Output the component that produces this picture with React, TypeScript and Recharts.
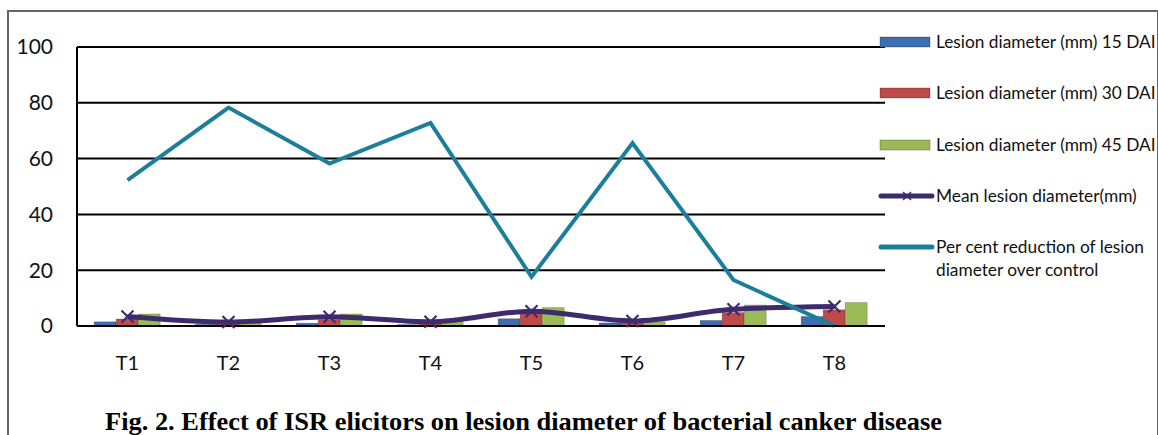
import React from 'react';
import { ComposedChart, Bar, Line, XAxis, YAxis, CartesianGrid } from 'recharts';

const categories = ['T1', 'T2', 'T3', 'T4', 'T5', 'T6', 'T7', 'T8'];
const dai15 = [1.5, 0.6, 1.0, 0.5, 2.6, 1.1, 2.0, 3.4];
const dai30 = [2.5, 0.8, 2.3, 0.8, 4.8, 1.7, 4.8, 5.8];
const dai45 = [4.3, 2.0, 4.3, 1.7, 6.6, 1.5, 7.5, 8.4];
const meanDiameter = [3.4, 1.4, 3.3, 1.5, 5.3, 1.8, 6.0, 7.0];
const reduction = [52.3, 78.3, 58.2, 72.8, 17.6, 65.6, 16.5, 0];
const yTicks = [0, 20, 40, 60, 80, 100];

const data = categories.map((c, i) => ({
  name: c,
  d15: dai15[i],
  d30: dai30[i],
  d45: dai45[i],
  mean: meanDiameter[i],
  red: reduction[i],
}));

const BLUE = '#3d6fb0';
const RED = '#be4b48';
const GREEN = '#9bbb59';
const PURPLE = '#3e2b6e';
const TEAL = '#1b7f9b';
const FONT = 'Lato, "Open Sans", sans-serif';

const legendItems = [
  { label: 'Lesion diameter (mm) 15 DAI', color: BLUE, kind: 'bar' },
  { label: 'Lesion diameter (mm) 30 DAI', color: RED, kind: 'bar' },
  { label: 'Lesion diameter (mm) 45 DAI', color: GREEN, kind: 'bar' },
  { label: 'Mean lesion diameter(mm)', color: PURPLE, kind: 'mark' },
  { label: 'Per cent reduction of lesion\ndiameter over control', color: TEAL, kind: 'line' },
];

const XDot = (props: any) => {
  const { cx, cy } = props;
  if (cx == null || cy == null) return null;
  const s = 6;
  return (
    <g stroke={PURPLE} strokeWidth={2.2}>
      <line x1={cx - s} y1={cy - s} x2={cx + s} y2={cy + s} />
      <line x1={cx - s} y1={cy + s} x2={cx + s} y2={cy - s} />
    </g>
  );
};

const LegendBox = () => (
  <div style={{ position: 'absolute', left: 878, top: 30, fontFamily: FONT, fontSize: 17.3, color: '#111' }}>
    {legendItems.map((it, i) => (
      <div key={i} style={{ position: 'absolute', top: i * 51.3, left: 0, display: 'flex', alignItems: 'flex-start', width: 290 }}>
        <svg width={58} height={24} style={{ flex: 'none' }}>
          {it.kind === 'bar' ? (
            <rect x={2} y={7} width={50} height={10} fill={it.color} stroke="rgba(0,0,0,0.25)" />
          ) : (
            <g>
              <line x1={3} y1={12} x2={54} y2={12} stroke={it.color} strokeWidth={5} strokeLinecap="round" />
              {it.kind === 'mark' && (
                <g stroke={it.color} strokeWidth={1.5}>
                  <line x1={25} y1={8} x2={33} y2={16} />
                  <line x1={25} y1={16} x2={33} y2={8} />
                </g>
              )}
            </g>
          )}
        </svg>
        <div style={{ whiteSpace: 'pre', lineHeight: '23px', marginTop: 0 }}>{it.label}</div>
      </div>
    ))}
  </div>
);

export default function App() {
  return (
    <div style={{ position: 'absolute', left: 0, top: 0, width: 1158, height: 435, background: '#fff', overflow: 'hidden' }}>
      <div style={{ position: 'absolute', left: 7, top: 10, width: 1148, height: 500, border: '2px solid #666' }} />
      <div style={{ position: 'absolute', left: 0, top: 0 }}>
        <ComposedChart
          width={1158}
          height={435}
          data={data}
          margin={{ top: 47, right: 273, bottom: 69, left: 0 }}
          barCategoryGap="17%"
          barGap={0}
        >
          <CartesianGrid horizontal vertical={false} stroke="#000" strokeWidth={2} />
          <XAxis
            dataKey="name"
            height={40}
            axisLine={{ stroke: '#000', strokeWidth: 2 }}
            tickLine={false}
            tickSize={0}
            tickMargin={30}
            tick={{ fill: '#111', fontSize: 20, fontFamily: FONT }}
          />
          <YAxis
            width={77}
            domain={[0, 100]}
            ticks={yTicks}
            axisLine={{ stroke: '#000', strokeWidth: 2 }}
            tickLine={false}
            tickSize={0}
            tickMargin={24}
            tick={{ fill: '#111', fontSize: 21, fontFamily: FONT }}
          />
          <Bar dataKey="d15" fill={BLUE} stroke="rgba(0,0,0,0.2)" isAnimationActive={false} />
          <Bar dataKey="d30" fill={RED} stroke="rgba(0,0,0,0.2)" isAnimationActive={false} />
          <Bar dataKey="d45" fill={GREEN} stroke="rgba(0,0,0,0.2)" isAnimationActive={false} />
          <Line dataKey="mean" type="monotone" stroke={PURPLE} strokeWidth={5} dot={<XDot />} activeDot={false} isAnimationActive={false} />
          <Line dataKey="red" type="linear" stroke={TEAL} strokeWidth={4} dot={false} activeDot={false} isAnimationActive={false} />
        </ComposedChart>
      </div>
      <LegendBox />
      <svg style={{ position: 'absolute', left: 0, top: 0 }} width={1158} height={435}>
        <text
          x={105}
          y={430}
          textLength={837}
          lengthAdjust="spacingAndGlyphs"
          fontFamily='"Liberation Serif", "Times New Roman", serif'
          fontWeight="bold"
          fontSize={25.5}
          fill="#000"
        >
          Fig. 2. Effect of ISR elicitors on lesion diameter of bacterial canker disease
        </text>
      </svg>
    </div>
  );
}
